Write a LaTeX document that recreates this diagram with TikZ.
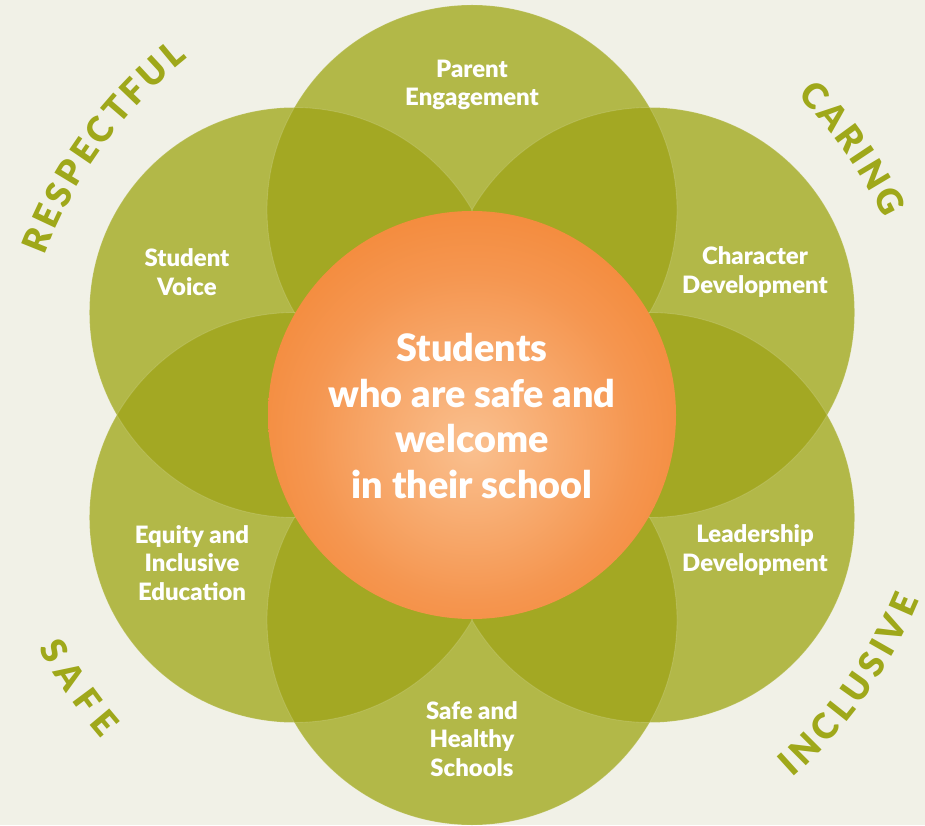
\documentclass[tikz,border=0pt]{standalone}
\usepackage{fontspec}
\setmainfont{Lato}[BoldFont={Lato Black}]
\usetikzlibrary{decorations.text}
\definecolor{paper}{HTML}{F1F1E7}
\definecolor{petal}{HTML}{B2B848}
\definecolor{petaldark}{HTML}{A3A823}
\definecolor{wordgreen}{HTML}{9FA81A}
\definecolor{orangeedge}{HTML}{F27B20}
\definecolor{orangemid}{HTML}{F59650}
\definecolor{orangecore}{HTML}{FAC08F}
\pgfdeclareradialshading{sunglow}{\pgfpoint{0bp}{-4bp}}{color(0bp)=(orangecore); color(20bp)=(orangemid); color(40bp)=(orangeedge); color(60bp)=(orangeedge)}
\newcommand{\petalr}{205}
\begin{document}
\begin{tikzpicture}[x=0.02cm,y=0.02cm,font=\bfseries,
  label/.style={text=white,align=center,font=\fontsize{13.6}{16.4}\selectfont\bfseries},
  hub/.style={text=white,align=center,font=\fontsize{21.5}{26}\selectfont\bfseries},
  word/.style={decorate,decoration={text along path,text align=fit to path,
    text={|\fontsize{20}{20}\selectfont\bfseries\color{wordgreen}|#1}}}]
	\useasboundingbox[fill=paper] (0,0) rectangle (925,825);
	\coordinate (C) at (472,410);
	% petals
	\foreach \a in {90,30,-30,-90,-150,150}
		\fill[petal] (C) ++(\a:\petalr) circle[radius=\petalr];
	% overlaps of neighbouring petals
	\foreach \a/\b in {90/30,30/-30,-30/-90,-90/-150,-150/150,150/90}{
		\begin{scope}
			\clip (C) ++(\a:\petalr) circle[radius=\petalr];
			\fill[petaldark] (C) ++(\b:\petalr) circle[radius=\petalr];
		\end{scope}
	}
	\foreach \a in {90,30,-30,-90,-150,150}
		\draw[white,opacity=0.15,line width=0.5pt] (C) ++(\a:\petalr) circle[radius=\petalr];
	% centre
	\shade[shading=sunglow] (C) circle[radius=204];
	\node[hub] (centre) at (472,409) {Students\\who are safe and\\welcome\\in their school};
	% petal labels
	\node[label] (parent) at (472,740) {Parent\\Engagement};
	\node[label] (voice) at (187,553) {Student\\Voice};
	\node[label] (character) at (755,553) {Character\\Development};
	\node[label] (equity) at (192,262) {Equity and\\Inclusive\\Education};
	\node[label] (leader) at (755,275) {Leadership\\Development};
	\node[label] (healthy) at (472,86) {Safe and\\Healthy\\Schools};
	% values round the edge
	\path[word=RESPECTFUL] (C) ++(159.5:456) arc[start angle=159.5,end angle=128.5,radius=456];
	\path[word=CARING] (C) ++(44.5:456) arc[start angle=44.5,end angle=25.5,radius=456];
	\path[word=INCLUSIVE] (C) ++(-48.5:484) arc[start angle=-48.5,end angle=-22.5,radius=484];
	\path[word=SAFE] (C) ++(208.3:492) arc[start angle=208.3,end angle=221.2,radius=492];
\end{tikzpicture}
\end{document}
